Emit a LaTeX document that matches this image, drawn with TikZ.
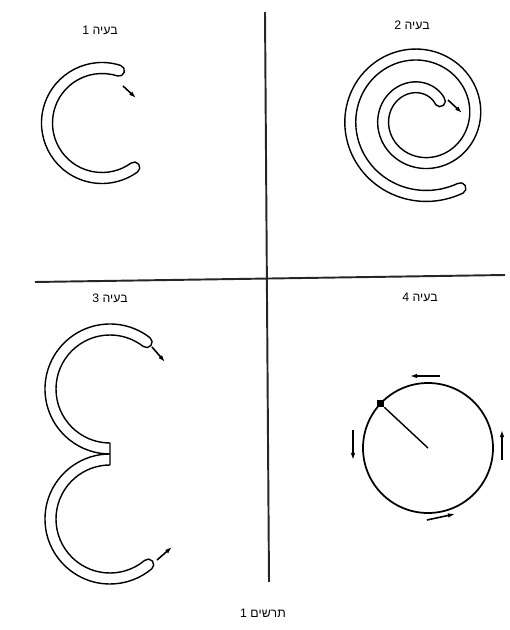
\documentclass[tikz,border=0pt]{standalone}
\usepackage{fontspec}
\newfontfamily\hebfont[Script=Hebrew]{Liberation Sans}
\TeXXeTstate=1
\usetikzlibrary{arrows.meta}

\begin{document}
\begin{tikzpicture}[
    x=0.02cm, y=0.02cm,
    caption/.style={font=\hebfont\fontsize{7}{8}\selectfont, inner sep=1pt},
    band/.style={draw=black, line width=0.8pt, line join=round},
    axis/.style={draw=black!85, line width=1.1pt},
    move/.style={line width=0.9pt, -{Latex[length=4pt,width=2.6pt]}},
    wheel/.style={draw=black, line width=1pt},
    pinbox/.style={rectangle, fill=black, minimum size=4pt, inner sep=0pt}
]
\useasboundingbox[fill=white] (0,0) rectangle (510,630);

% Dividing lines
\coordinate (vtop) at (265,618);
\coordinate (vbot) at (269,48);
\coordinate (hleft) at (35,348);
\coordinate (hright) at (505,355);
\draw[axis] (vtop) -- (vbot);
\draw[axis] (hleft) -- (hright);

% Captions
\node[caption] (cap1) at (100,600) {\beginR בעיה 1\endR};
\node[caption] (cap2) at (412,605) {\beginR בעיה 2\endR};
\node[caption] (cap3) at (110,332) {\beginR בעיה 3\endR};
\node[caption] (cap4) at (420,333) {\beginR בעיה 4\endR};
\node[caption] (fig) at (263,17) {\beginR תרשים 1\endR};

% Problem 1
\draw[band] (102,507) ++(72:60.5) arc[start angle=72, end angle=306, radius=60.5]
    arc[start angle=306, end angle=486, radius=5.5]
    arc[start angle=306, end angle=72, radius=49.5]
    arc[start angle=252, end angle=432, radius=5.5] -- cycle;
\coordinate (p1a) at (123,544);
\coordinate (p1b) at (136,532);
\draw[move] (p1a) -- (p1b);

% Problem 2
\draw[band] plot[domain=40:659, samples=200, variable=\t]
        ({421+(26.5+0.0917*\t)*cos(\t)}, {513+(26.5+0.0917*\t)*sin(\t)})
    arc[start angle=659, end angle=839, radius=5.5]
    -- plot[domain=659:40, samples=200, variable=\t]
        ({421+(15.5+0.0917*\t)*cos(\t)}, {513+(15.5+0.0917*\t)*sin(\t)})
    arc[start angle=220, end angle=400, radius=5.5] -- cycle;
\coordinate (p2a) at (448,530);
\coordinate (p2b) at (462,517);
\draw[move] (p2a) -- (p2b);

% Problem 3
\draw[band] (110,241) ++(52:65) arc[start angle=52, end angle=270, radius=65]
    arc[start angle=90, end angle=310, radius=65]
    arc[start angle=310, end angle=490, radius=5.5]
    arc[start angle=310, end angle=90, radius=54]
    -- ++(0,22)
    arc[start angle=270, end angle=52, radius=54]
    arc[start angle=232, end angle=412, radius=5.5] -- cycle;
\coordinate (p3a) at (152,283);
\coordinate (p3b) at (165,268);
\coordinate (p3c) at (157,70);
\coordinate (p3d) at (172,83);
\draw[move] (p3a) -- (p3b);
\draw[move] (p3c) -- (p3d);

% Problem 4
\coordinate (hub) at (428,182);
\draw[wheel] (hub) circle[radius=65];
\node[pinbox] (pin) at ([shift={(137:65)}]hub) {};
\draw[line width=0.8pt] (pin) -- (hub);
\coordinate (topa) at (440,254);
\coordinate (topb) at (410,254);
\coordinate (lefta) at (353,200);
\coordinate (leftb) at (353,170);
\coordinate (bota) at (427,110);
\coordinate (botb) at (455,116);
\coordinate (righta) at (502,170);
\coordinate (rightb) at (502,200);
\draw[move] (topa) -- (topb);
\draw[move] (lefta) -- (leftb);
\draw[move] (bota) -- (botb);
\draw[move] (righta) -- (rightb);
\end{tikzpicture}
\end{document}
